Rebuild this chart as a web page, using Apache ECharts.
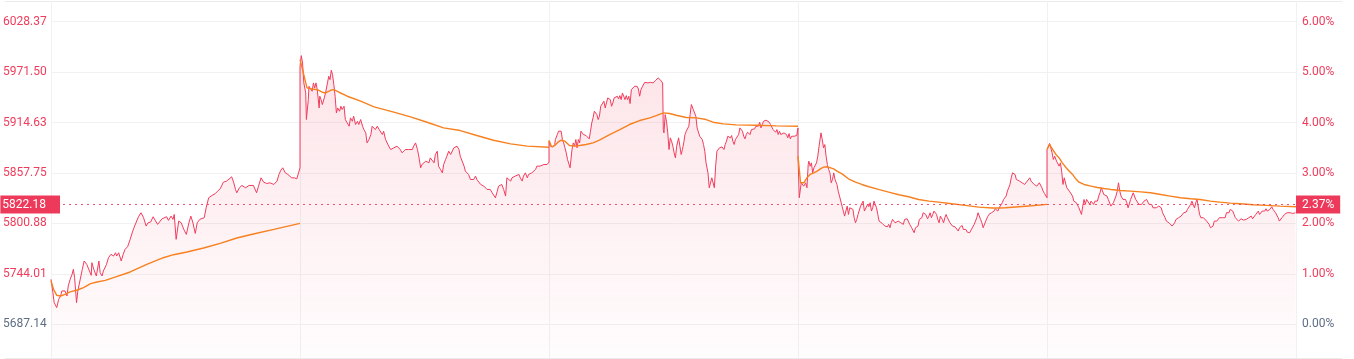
<!DOCTYPE html>
<html><head><meta charset="utf-8">
<script src="https://cdn.jsdelivr.net/npm/echarts@6/dist/echarts.min.js"></script>
<style>html,body{margin:0;padding:0;background:#fff}#c{width:1354px;height:359px}</style>
</head><body><div id="c"></div>
<script>
const basePrice = 5687.14;
const lastPrice = 5822.18;
const lastPct = 2.37;
const priceTicks = [5687.14, 5744.01, 5800.88, 5857.75, 5914.63, 5971.50, 6028.37];
const pctTicks = [0, 1, 2, 3, 4, 5, 6];
const minutesPerDay = 390;
const dayCount = 5;

const day1Price = [[0,5737.8],[3,5722.8],[5,5711.5],[8,5710.8],[9,5705.9],[12,5715.3],[15,5719.0],[17,5724.7],[20,5722.8],[22,5724.7],[25,5719.0],[27,5730.3],[30,5737.8],[33,5743.4],[35,5749.1],[37,5739.7],[40,5711.5],[42,5724.7],[45,5726.6],[49,5749.1],[52,5758.5],[56,5754.7],[59,5753.6],[63,5742.3],[64,5756.6],[67,5749.1],[71,5741.6],[75,5758.5],[77,5745.3],[80,5741.6],[82,5747.2],[87,5754.7],[90,5762.2],[94,5766.0],[98,5764.1],[101,5767.8],[103,5764.1],[106,5767.8],[110,5758.5],[113,5766.0],[116,5771.6],[120,5774.6],[124,5782.9],[128,5792.2],[131,5797.9],[134,5799.8],[137,5808.4],[141,5812.9],[145,5807.3],[149,5797.9],[152,5801.6],[156,5802.4],[160,5808.4],[163,5804.6],[167,5799.8],[170,5801.6],[174,5806.1],[176,5804.6],[181,5808.4],[184,5804.3],[188,5809.1],[191,5805.4],[193,5811.0],[196,5782.9],[200,5803.5],[204,5801.6],[208,5794.1],[212,5788.5],[216,5801.6],[219,5809.1],[222,5802.4],[226,5789.6],[229,5801.6],[233,5805.4],[236,5806.1],[240,5807.3],[243,5818.5],[247,5829.8],[252,5832.4],[257,5834.3],[261,5837.3],[265,5839.9],[268,5841.0],[270,5847.4],[275,5848.6],[278,5849.7],[283,5853.4],[286,5847.4],[289,5839.2],[291,5835.4],[295,5841.0],[299,5843.7],[302,5845.9],[305,5841.0],[310,5843.7],[313,5842.2],[317,5843.7],[322,5835.4],[325,5842.9],[329,5852.3],[333,5847.4],[338,5845.9],[343,5846.7],[349,5844.8],[354,5848.6],[357,5856.1],[360,5860.9],[363,5863.6],[367,5857.9],[371,5856.1],[374,5856.1],[377,5852.3],[381,5852.3],[385,5851.2],[388,5852.3],[390,5863.6]];
const day2Price = [[0,5978.1],[2,5990.1],[4,5981.8],[6,5959.3],[9,5948.0],[10,5918.0],[13,5940.5],[14,5955.5],[17,5957.4],[19,5949.9],[21,5959.3],[23,5953.7],[25,5959.3],[27,5951.8],[30,5931.1],[31,5944.3],[33,5940.5],[35,5934.9],[38,5942.4],[40,5948.0],[43,5959.3],[45,5966.8],[47,5963.0],[49,5973.6],[51,5968.7],[53,5957.4],[55,5944.3],[57,5925.5],[59,5931.1],[62,5927.4],[64,5933.0],[66,5929.3],[69,5933.0],[71,5918.0],[74,5914.2],[77,5910.5],[79,5919.9],[82,5916.1],[84,5921.8],[87,5912.4],[90,5916.1],[92,5912.4],[95,5918.0],[98,5910.5],[100,5906.7],[103,5903.0],[105,5891.7],[108,5895.5],[111,5901.1],[113,5910.5],[116,5911.2],[118,5906.7],[121,5910.5],[124,5906.7],[126,5904.9],[129,5901.1],[131,5904.9],[134,5895.5],[137,5893.6],[139,5888.0],[142,5884.2],[144,5886.1],[147,5886.1],[150,5884.2],[152,5888.0],[155,5889.9],[157,5884.2],[160,5880.5],[163,5882.3],[165,5884.2],[168,5886.1],[170,5884.2],[173,5886.1],[176,5884.2],[178,5888.0],[181,5891.7],[184,5884.2],[186,5876.7],[189,5863.6],[191,5867.3],[194,5869.2],[197,5871.1],[199,5873.0],[202,5869.2],[204,5874.8],[207,5876.7],[210,5869.2],[212,5878.6],[215,5882.3],[217,5865.5],[220,5861.7],[223,5857.9],[225,5867.3],[228,5873.0],[230,5876.7],[233,5882.3],[236,5878.6],[238,5880.5],[241,5886.1],[243,5888.0],[246,5888.0],[249,5884.2],[251,5876.7],[254,5874.8],[257,5865.5],[259,5859.8],[262,5857.9],[264,5856.1],[267,5850.4],[270,5852.3],[272,5850.4],[275,5854.2],[277,5850.4],[280,5848.6],[283,5844.8],[285,5846.7],[288,5842.9],[290,5844.8],[293,5839.2],[296,5841.1],[298,5839.2],[301,5835.4],[303,5837.3],[306,5829.8],[309,5837.3],[311,5842.9],[314,5842.9],[316,5844.8],[319,5839.2],[322,5831.7],[324,5852.3],[327,5854.2],[330,5848.6],[332,5852.3],[335,5850.4],[337,5854.2],[340,5852.3],[343,5856.1],[345,5852.3],[348,5848.6],[350,5854.2],[353,5857.9],[356,5852.3],[358,5856.1],[361,5854.2],[363,5857.9],[366,5859.8],[369,5861.7],[371,5865.5],[374,5867.3],[376,5865.5],[379,5867.3],[382,5867.3],[384,5865.5],[387,5867.3],[390,5870.0]];
const day3Price = [[0,5893.6],[2,5888.0],[4,5886.1],[6,5887.2],[9,5889.9],[10,5895.5],[13,5901.1],[15,5904.9],[17,5906.0],[19,5904.9],[21,5895.5],[23,5891.7],[25,5886.1],[27,5880.5],[29,5873.0],[31,5873.0],[33,5863.6],[36,5884.2],[38,5891.7],[40,5888.0],[42,5895.5],[44,5886.1],[46,5895.5],[48,5891.7],[50,5904.9],[52,5906.0],[54,5901.1],[56,5903.0],[58,5900.0],[61,5901.1],[63,5896.2],[65,5904.9],[67,5914.3],[69,5919.9],[71,5927.4],[73,5929.3],[75,5923.6],[77,5918.0],[79,5921.8],[81,5933.0],[84,5934.9],[86,5938.7],[88,5931.1],[90,5936.8],[92,5942.4],[94,5940.5],[96,5940.5],[98,5933.0],[100,5936.8],[102,5942.4],[104,5940.5],[107,5944.3],[109,5941.3],[111,5945.0],[113,5940.5],[115,5948.0],[117,5944.3],[119,5940.5],[121,5945.0],[123,5940.5],[125,5944.3],[127,5936.0],[129,5951.8],[132,5953.7],[134,5955.5],[136,5957.4],[138,5955.5],[140,5952.5],[142,5944.3],[144,5951.8],[146,5954.8],[148,5956.3],[150,5960.0],[152,5961.2],[155,5959.3],[157,5958.5],[159,5960.0],[161,5958.5],[163,5959.3],[165,5961.2],[167,5962.3],[169,5963.8],[171,5964.9],[173,5963.1],[175,5962.3],[178,5959.3],[179,5906.7],[180,5903.0],[182,5923.6],[184,5916.1],[186,5903.0],[188,5884.2],[190,5897.4],[192,5893.6],[194,5888.0],[196,5880.5],[198,5874.8],[200,5888.0],[203,5897.4],[205,5895.5],[207,5878.6],[209,5884.2],[211,5891.7],[213,5901.1],[215,5904.9],[217,5903.0],[219,5910.5],[221,5923.6],[223,5934.9],[226,5929.3],[228,5931.1],[230,5921.8],[232,5908.6],[234,5906.7],[236,5899.2],[238,5901.1],[240,5895.5],[242,5889.9],[244,5882.3],[246,5869.2],[249,5857.9],[251,5841.1],[253,5842.9],[255,5852.3],[257,5850.4],[259,5841.1],[261,5865.5],[263,5882.3],[265,5883.5],[267,5886.1],[269,5884.2],[271,5887.2],[274,5884.2],[276,5889.9],[278,5893.6],[280,5899.2],[282,5901.1],[284,5897.4],[286,5900.0],[288,5893.6],[290,5889.9],[292,5895.5],[294,5893.6],[297,5901.1],[299,5908.6],[301,5910.5],[303,5904.9],[305,5899.2],[307,5896.2],[309,5901.1],[311,5903.7],[313,5904.9],[315,5901.1],[317,5906.7],[320,5908.6],[322,5907.5],[324,5910.5],[326,5912.4],[328,5910.5],[330,5915.0],[332,5908.6],[334,5912.4],[336,5916.1],[338,5914.3],[340,5917.3],[342,5916.1],[345,5915.0],[347,5912.4],[349,5910.5],[351,5906.7],[353,5906.0],[355,5903.7],[357,5906.7],[359,5901.1],[361,5904.9],[363,5901.1],[365,5899.2],[368,5903.0],[370,5902.2],[372,5901.1],[374,5897.4],[376,5902.2],[378,5896.2],[380,5899.2],[382,5897.4],[384,5899.2],[386,5898.5],[388,5900.0],[390,5908.6]];
const day4Price = [[0,5876.7],[2,5829.8],[5,5846.7],[7,5844.8],[9,5842.9],[12,5846.7],[14,5841.1],[16,5867.3],[17,5871.1],[19,5865.4],[21,5869.2],[23,5857.9],[25,5863.6],[27,5861.7],[29,5869.2],[31,5876.7],[33,5888.0],[36,5903.0],[38,5895.5],[40,5886.1],[42,5889.8],[44,5876.7],[46,5867.3],[48,5861.7],[50,5857.9],[52,5846.7],[54,5850.4],[56,5857.9],[58,5850.4],[61,5844.8],[63,5837.3],[65,5831.7],[67,5829.8],[69,5820.4],[71,5814.8],[73,5809.1],[75,5814.8],[77,5820.4],[79,5811.0],[81,5818.5],[84,5820.4],[86,5816.7],[88,5807.3],[90,5801.6],[92,5805.4],[94,5811.0],[96,5812.9],[98,5820.4],[100,5822.3],[102,5826.0],[104,5814.8],[107,5816.7],[109,5822.3],[111,5819.7],[113,5824.2],[115,5814.8],[117,5818.5],[119,5826.0],[121,5824.2],[123,5818.5],[125,5811.0],[127,5803.5],[129,5801.6],[132,5800.9],[134,5799.8],[136,5797.9],[138,5798.6],[140,5797.1],[142,5799.8],[144,5796.0],[146,5801.6],[148,5805.4],[150,5803.5],[152,5801.6],[155,5803.5],[157,5803.5],[159,5805.4],[161,5801.6],[163,5803.5],[165,5799.8],[167,5805.4],[169,5805.4],[171,5806.1],[173,5805.4],[175,5799.8],[178,5796.0],[180,5794.1],[182,5790.4],[184,5796.0],[186,5796.0],[188,5797.9],[190,5805.4],[192,5803.5],[194,5807.3],[196,5812.9],[198,5814.8],[200,5811.0],[203,5806.1],[205,5809.1],[207,5812.9],[209,5807.3],[211,5811.0],[213,5814.8],[215,5816.7],[217,5811.0],[219,5805.4],[221,5801.6],[223,5809.1],[226,5805.4],[228,5801.6],[230,5807.3],[232,5811.0],[234,5807.3],[236,5805.4],[238,5801.6],[240,5799.8],[242,5797.9],[244,5796.0],[246,5797.1],[249,5794.9],[251,5792.3],[253,5796.0],[255,5794.1],[257,5798.6],[259,5794.1],[261,5792.3],[263,5794.1],[265,5791.1],[267,5792.3],[269,5790.4],[271,5793.4],[274,5794.9],[276,5799.8],[278,5803.5],[280,5807.3],[282,5812.9],[284,5811.0],[286,5805.4],[288,5801.6],[290,5796.0],[292,5797.9],[294,5803.5],[297,5808.4],[299,5811.0],[301,5809.1],[303,5812.9],[305,5811.0],[307,5814.8],[309,5817.4],[311,5816.7],[313,5814.8],[315,5818.5],[317,5820.4],[320,5824.2],[322,5827.9],[324,5829.8],[326,5831.7],[328,5837.3],[330,5841.1],[332,5844.8],[334,5852.3],[336,5857.9],[338,5859.8],[340,5856.1],[342,5850.4],[345,5852.3],[347,5848.6],[349,5850.4],[351,5846.7],[353,5848.6],[355,5844.8],[357,5846.7],[359,5848.6],[361,5850.4],[363,5852.3],[365,5848.6],[368,5846.7],[370,5844.8],[372,5846.7],[374,5842.9],[376,5844.8],[378,5846.7],[380,5844.8],[382,5841.1],[384,5837.3],[386,5834.7],[388,5833.5],[390,5829.8]];
const day5Price = [[0,5884.2],[4,5891.0],[6,5886.1],[8,5880.5],[10,5873.0],[12,5876.7],[15,5871.1],[17,5873.0],[19,5865.5],[21,5869.2],[23,5859.8],[25,5844.8],[27,5852.3],[29,5850.4],[31,5841.1],[33,5842.9],[35,5837.3],[37,5835.4],[40,5831.7],[42,5826.0],[44,5827.9],[46,5824.2],[48,5822.3],[50,5818.5],[52,5816.7],[54,5811.0],[56,5820.4],[58,5827.9],[60,5822.3],[62,5827.9],[64,5829.8],[67,5822.3],[69,5826.0],[71,5827.9],[73,5822.3],[75,5826.0],[77,5827.9],[79,5826.0],[81,5831.7],[83,5835.4],[85,5841.1],[87,5839.2],[89,5833.5],[92,5835.4],[94,5831.7],[96,5827.9],[98,5826.0],[100,5820.4],[102,5818.5],[104,5824.2],[106,5822.3],[108,5831.7],[110,5837.3],[112,5846.7],[114,5837.3],[116,5831.7],[119,5827.9],[121,5829.8],[123,5827.9],[125,5824.2],[127,5818.5],[129,5820.4],[131,5827.9],[133,5831.7],[135,5835.4],[137,5833.5],[139,5827.9],[141,5826.0],[144,5822.3],[146,5824.2],[148,5822.3],[150,5820.4],[152,5826.0],[154,5824.2],[156,5827.9],[158,5826.0],[160,5822.3],[162,5820.4],[164,5822.3],[166,5818.5],[168,5819.7],[171,5818.5],[173,5816.7],[175,5820.4],[177,5822.3],[179,5818.5],[181,5812.9],[183,5811.0],[185,5807.3],[187,5803.5],[189,5805.4],[191,5801.6],[193,5799.8],[196,5797.9],[198,5796.0],[200,5801.6],[202,5805.4],[204,5803.5],[206,5807.3],[208,5806.1],[210,5809.1],[212,5811.0],[214,5812.9],[216,5811.0],[218,5813.7],[220,5816.7],[223,5818.5],[225,5822.3],[227,5826.0],[229,5822.3],[231,5818.5],[233,5824.2],[235,5827.9],[237,5826.0],[239,5811.0],[241,5807.3],[243,5809.1],[245,5807.3],[248,5809.1],[250,5803.5],[252,5805.4],[254,5799.8],[256,5796.0],[258,5794.1],[260,5797.9],[262,5803.5],[264,5805.4],[266,5803.5],[268,5805.4],[270,5807.3],[272,5805.4],[275,5807.3],[277,5809.1],[279,5807.3],[281,5812.9],[283,5814.8],[285,5812.9],[287,5816.7],[289,5818.5],[291,5814.8],[293,5811.0],[295,5807.3],[297,5805.4],[300,5803.5],[302,5805.4],[304,5806.1],[306,5805.4],[308,5804.6],[310,5806.1],[312,5805.4],[314,5806.1],[316,5807.3],[318,5805.4],[320,5809.1],[322,5806.1],[324,5807.3],[327,5811.0],[329,5812.9],[331,5814.8],[333,5811.0],[335,5812.9],[337,5814.8],[339,5816.7],[341,5814.8],[343,5817.4],[345,5814.8],[347,5813.7],[349,5816.7],[352,5819.7],[354,5816.7],[356,5814.8],[358,5812.9],[360,5811.0],[362,5807.3],[364,5803.5],[366,5805.4],[368,5807.3],[370,5809.1],[372,5811.0],[374,5811.0],[376,5812.9],[379,5812.1],[381,5812.9],[383,5813.7],[385,5812.1],[387,5812.9],[389,5812.9],[390,5812.9]];

const day1Avg = [[0,5735.9],[4,5726.6],[9,5719.8],[15,5719.0],[22,5720.9],[30,5723.6],[41,5725.8],[51,5728.5],[62,5732.9],[72,5734.8],[85,5736.7],[98,5739.7],[124,5746.1],[150,5754.7],[176,5762.2],[192,5765.6],[213,5768.6],[239,5773.1],[265,5778.4],[291,5784.4],[317,5788.9],[349,5794.1],[390,5800.9]];
const day2Avg = [[0,5985.6],[4,5974.3],[9,5959.3],[11,5953.7],[19,5952.5],[27,5951.8],[35,5948.8],[40,5948.0],[48,5951.0],[53,5951.8],[61,5948.8],[74,5944.3],[95,5938.7],[116,5932.3],[147,5926.3],[173,5921.0],[199,5915.0],[225,5908.6],[251,5905.6],[277,5900.0],[303,5894.7],[330,5890.6],[356,5888.0],[390,5886.8]];
const day3Avg = [[0,5894.7],[4,5887.2],[9,5888.7],[14,5892.5],[19,5894.7],[25,5893.6],[32,5888.7],[40,5888.0],[48,5888.7],[58,5889.9],[69,5891.7],[79,5894.7],[95,5901.1],[111,5906.7],[126,5912.4],[142,5916.9],[158,5919.9],[168,5922.5],[179,5925.5],[189,5924.8],[199,5922.9],[215,5920.3],[231,5919.9],[246,5918.0],[257,5915.0],[273,5913.1],[293,5912.0],[325,5911.6],[356,5910.9],[390,5910.5]];
const day4Avg = [[0,5876.7],[4,5846.7],[9,5846.7],[14,5852.3],[19,5856.1],[25,5857.9],[30,5859.8],[35,5862.4],[40,5864.3],[45,5864.7],[51,5863.6],[56,5862.4],[61,5859.8],[69,5856.8],[79,5851.2],[90,5847.4],[100,5844.8],[111,5842.2],[126,5839.2],[142,5836.2],[158,5833.2],[173,5830.9],[189,5827.9],[205,5826.0],[220,5824.9],[241,5823.0],[262,5821.2],[283,5819.3],[304,5818.2],[314,5818.2],[325,5818.5],[346,5819.7],[366,5820.8],[390,5822.3]];
const day5Avg = [[0,5884.2],[4,5889.9],[9,5884.2],[14,5878.6],[19,5874.8],[24,5869.2],[30,5863.6],[35,5859.8],[40,5856.1],[45,5851.2],[50,5847.4],[58,5844.8],[69,5842.9],[79,5841.4],[89,5840.3],[100,5839.2],[115,5838.0],[131,5837.3],[147,5836.5],[162,5835.4],[178,5833.5],[193,5831.7],[209,5829.8],[225,5828.7],[240,5827.9],[256,5826.0],[271,5824.9],[287,5823.8],[303,5823.0],[323,5821.9],[344,5821.2],[365,5820.4],[390,5819.7]];

const dayPrices = [day1Price, day2Price, day3Price, day4Price, day5Price];
const dayAvgs = [day1Avg, day2Avg, day3Avg, day4Avg, day5Avg];

const RED = '#f03c5c';
const ORANGE = '#f7801f';
const GRAY = '#5f6d84';
const yMin = 5649.1, yMax = 6051.7;
const toPct = v => (v / basePrice - 1) * 100;

const priceSeriesData = [];
dayPrices.forEach((arr, d) => arr.forEach(([m, v]) => priceSeriesData.push([d * minutesPerDay + m, v])));

const avgSeries = dayAvgs.map((arr, d) => ({
  type: 'line', xAxisIndex: 0, yAxisIndex: 0, symbol: 'none', silent: true,
  lineStyle: { color: ORANGE, width: 1.4 }, z: 4,
  data: arr.map(([m, v]) => [d * minutesPerDay + m, v])
}));

const chart = echarts.init(document.getElementById('c'), null, { renderer: 'canvas' });
chart.setOption({
  animation: false,
  textStyle: { fontFamily: 'Roboto, "Noto Sans", sans-serif' },
  grid: [
    { left: 49, right: 58, top: 1, bottom: 1, containLabel: false },
    { left: 5, right: 12, top: 1, bottom: 1, containLabel: false }
  ],
  xAxis: [
    { type: 'value', gridIndex: 0, min: 0, max: dayCount * minutesPerDay, interval: minutesPerDay,
      axisLine: { show: false }, axisTick: { show: false }, axisLabel: { show: false },
      splitLine: { show: true, lineStyle: { color: '#f1f1f1', width: 1 } } },
    { type: 'value', gridIndex: 1, min: 0, max: 1, show: false }
  ],
  yAxis: [
    { type: 'value', gridIndex: 0, position: 'left', min: yMin, max: yMax,
      axisLine: { show: false },
      axisTick: { show: false, customValues: priceTicks },
      splitLine: { show: true, lineStyle: { color: '#f1f1f1', width: 1 } },
      axisLabel: { customValues: priceTicks, align: 'left', margin: 48, fontSize: 12,
        formatter: v => v.toFixed(2),
        color: v => (Math.abs(v - basePrice) < 0.01 ? GRAY : RED) } },
    { type: 'value', gridIndex: 0, position: 'right', min: toPct(yMin), max: toPct(yMax),
      axisLine: { show: false },
      axisTick: { show: false, customValues: pctTicks },
      splitLine: { show: false },
      axisLabel: { customValues: pctTicks, margin: 6, fontSize: 12,
        formatter: v => v.toFixed(2) + '%',
        color: v => (Math.abs(v) < 0.001 ? GRAY : RED) } },
    { type: 'value', gridIndex: 1, min: 0, max: 1, interval: 1,
      axisLine: { show: false }, axisTick: { show: false }, axisLabel: { show: false },
      splitLine: { show: true, lineStyle: { color: '#ebebeb', width: 1 } } }
  ],
  series: [
    { type: 'line', xAxisIndex: 0, yAxisIndex: 0, symbol: 'none', silent: true, z: 3,
      data: priceSeriesData,
      lineStyle: { color: RED, width: 1 },
      areaStyle: { origin: 'start', color: new echarts.graphic.LinearGradient(0, 0, 0, 1, [
        { offset: 0, color: 'rgba(240,60,92,0.20)' },
        { offset: 1, color: 'rgba(240,60,92,0.02)' }
      ]) },
      markLine: {
        silent: true, symbol: ['none', 'none'], animation: false,
        lineStyle: { color: 'rgba(240,60,92,0.65)', width: 1, type: [2, 4] },
        data: [
          { yAxis: lastPrice, label: { show: true, position: 'start', distance: -9,
              formatter: lastPrice.toFixed(2), color: '#fff', backgroundColor: '#ee3a5a',
              padding: [2, 14, 2, 2], fontSize: 12, lineHeight: 14 } },
          { yAxis: lastPrice, label: { show: true, position: 'end', distance: 0,
              formatter: lastPct.toFixed(2) + '%', color: '#fff', backgroundColor: '#ee3a5a',
              padding: [2, 6, 2, 6], fontSize: 12, lineHeight: 14 } }
        ]
      }
    },
    ...avgSeries
  ]
});
</script></body></html>
